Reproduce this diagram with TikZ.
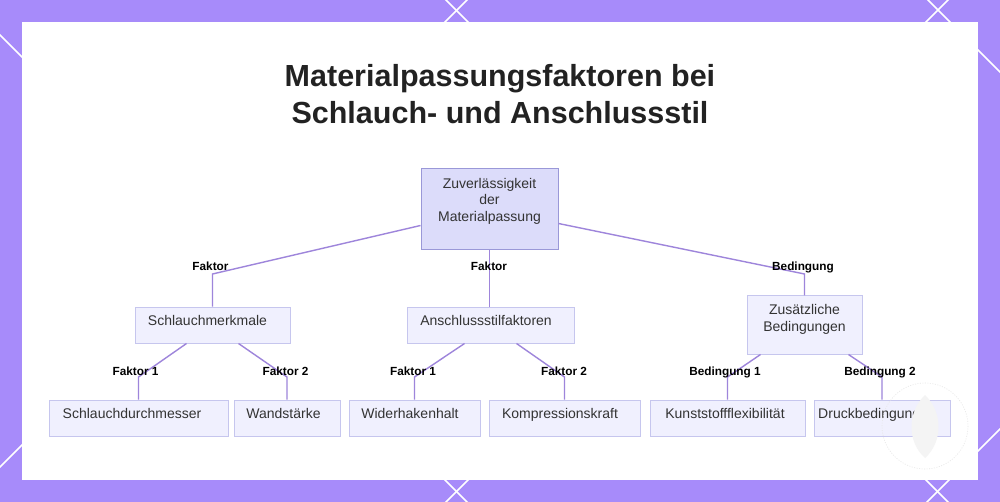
\documentclass[tikz,border=0pt]{standalone}
\usepackage{fontspec}
\setmainfont{Liberation Sans}
\definecolor{bgp}{HTML}{A78BFA}
\definecolor{rootfill}{HTML}{DCDCFA}
\definecolor{rootborder}{HTML}{9A98D8}
\definecolor{leaffill}{HTML}{F0F0FE}
\definecolor{leafborder}{HTML}{C6C6EE}
\definecolor{edgec}{HTML}{9E85DB}
\definecolor{textc}{HTML}{333333}
\definecolor{titlec}{HTML}{222222}
\definecolor{wmark}{HTML}{F4F4F4}
\definecolor{wline}{HTML}{E6E6E6}
\tikzset{
  boxnode/.style={draw=leafborder, fill=leaffill, line width=1pt, minimum height=36pt, inner sep=0pt},
  rootbox/.style={draw=rootborder, fill=rootfill, line width=1pt, inner sep=0pt},
  txt/.style={font=\fontsize{14}{16.5}\selectfont, text=textc, inner sep=0pt, align=center},
  lbl/.style={font=\bfseries\fontsize{11.8}{13}\selectfont, text=black, inner sep=0pt, anchor=base},
  edge/.style={draw=edgec, line width=1.4pt},
  titletxt/.style={font=\bfseries\fontsize{30.5}{36}\selectfont, text=titlec, inner sep=0pt, anchor=base},
  diag/.style={draw=white, line width=1.5pt}
}
\begin{document}
\begin{tikzpicture}[x=1pt, y=-1pt]
\useasboundingbox (0,0) rectangle (1000,502);
\fill[bgp] (0,0) rectangle (1000,502);
\begin{scope}
\clip (0,0) rectangle (1000,502);
\foreach \c in {35,-446,-928} {\draw[diag] (-20,-20+\c) -- (1020,1020+\c);}
\foreach \c in {467,948,1429} {\draw[diag] (-20,\c+20) -- (1020,\c-1020);}
\end{scope}
\fill[white] (22,22) rectangle (978,480);

% title
\node[titletxt] (t1) at (500,87) {Materialpassungsfaktoren bei};
\node[titletxt] (t2) at (500,124) {Schlauch- und Anschlussstil};

% boxes
\node[rootbox, minimum width=137pt, minimum height=81pt] (root) at (489.5,209.5) {};
\node[boxnode, minimum width=155pt] (sm) at (212.5,325) {};
\node[boxnode, minimum width=167pt] (as) at (490.5,325) {};
\node[boxnode, minimum width=115pt, minimum height=58pt] (zb) at (804.5,325) {};
\node[boxnode, minimum width=179pt] (sd) at (138.5,418) {};
\node[boxnode, minimum width=106pt] (ws) at (287,418) {};
\node[boxnode, minimum width=131pt] (wh) at (414.5,418) {};
\node[boxnode, minimum width=151pt] (kk) at (564.5,418) {};
\node[boxnode, minimum width=155pt] (kf) at (727.5,418) {};
\node[boxnode, minimum width=136pt] (db) at (882,418) {};

% box texts
\node[txt, anchor=north] (root-t) at (489.5,178) {Zuverlässigkeit\\der\\Materialpassung};
\node[txt, anchor=north] (zb-t) at (804.5,304.5) {Zusätzliche\\Bedingungen};
\node[txt, anchor=base] (sm-t) at (207.5,325) {Schlauchmerkmale};
\node[txt, anchor=base] (as-t) at (486,325) {Anschlussstilfaktoren};
\node[txt, anchor=base] (sd-t) at (132,418) {Schlauchdurchmesser};
\node[txt, anchor=base] (ws-t) at (283.5,418) {Wandstärke};
\node[txt, anchor=base] (wh-t) at (410,418) {Widerhakenhalt};
\node[txt, anchor=base] (kk-t) at (560,418) {Kompressionskraft};
\node[txt, anchor=base] (kf-t) at (725,418) {Kunststoffflexibilität};
\node[txt, anchor=base] (db-t) at (877,418) {Druckbedingungen};

% edges level 1
\draw[edge] ([yshift=-16pt]root.west) -- (sm.north |- 0,274) -- (sm.north);
\draw[edge] (root.south) -- (root.south |- as.north);
\draw[edge] ([yshift=-14pt]root.east) -- (zb.north |- 0,274) -- (zb.north);
% edges level 2
\draw[edge] ([xshift=-26pt]sm.south) -- (sd.north |- 0,377) -- (sd.north);
\draw[edge] ([xshift=26pt]sm.south) -- (ws.north |- 0,377) -- (ws.north);
\draw[edge] ([xshift=-26pt]as.south) -- (wh.north |- 0,377) -- (wh.north);
\draw[edge] ([xshift=26pt]as.south) -- (kk.north |- 0,377) -- (kk.north);
\draw[edge] ([xshift=-44pt]zb.south) -- (kf.north |- 0,377) -- (kf.north);
\draw[edge] ([xshift=44pt]zb.south) -- (db.north |- 0,377) -- (db.north);

% edge labels
\node[lbl] (l1) at (210.5,271) {Faktor};
\node[lbl] (l2) at (489,271) {Faktor};
\node[lbl] (l3) at (803,271) {Bedingung};
\node[lbl] (l4) at (135.5,375) {Faktor 1};
\node[lbl] (l5) at (285.5,375) {Faktor 2};
\node[lbl] (l6) at (413,375) {Faktor 1};
\node[lbl] (l7) at (564,375) {Faktor 2};
\node[lbl] (l8) at (725,375) {Bedingung 1};
\node[lbl] (l9) at (880,375) {Bedingung 2};

% watermark
\draw[wline, line width=0.6pt, dash pattern=on 1pt off 1.5pt] (925,426) circle (43);
\fill[wmark] (925,395) .. controls (943,412) and (943,442) .. (925,458) .. controls (907,442) and (907,412) .. (925,395);
\end{tikzpicture}
\end{document}
